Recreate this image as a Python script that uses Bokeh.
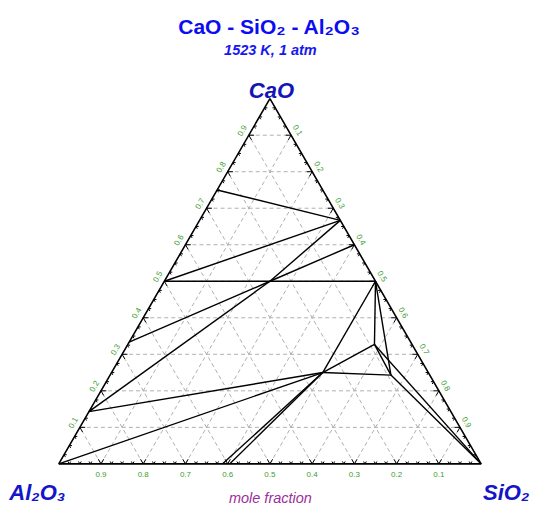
import math
from bokeh.plotting import figure
from bokeh.models import Range1d, Label
from bokeh.core.properties import value
from bokeh.embed import file_html
from bokeh.resources import INLINE

# ---------------- data ----------------
title_text = "CaO - SiO₂ - Al₂O₃"
subtitle_text = "1523 K, 1 atm"
corner_top = "CaO"
corner_left = "Al₂O₃"
corner_right = "SiO₂"
axis_label = "mole fraction"

# phase compositions (mole fractions of CaO and SiO2; Al2O3 = rest)
phase_names = ["CaO", "SiO2", "Al2O3", "C3A", "CA", "CA2", "CA6", "C2S", "C3S2",
               "CS", "Gehlenite", "Anorthite", "Mullite_a", "Mullite_b", "Liq1", "Liq2"]
phase_cao = [1.0, 0.0, 0.0, 0.75, 0.5, 1/3, 1/7, 2/3, 0.6,
             0.5, 0.5, 0.25, 0.0, 0.0, 0.327, 0.243]
phase_sio2 = [0.0, 1.0, 0.0, 0.0, 0.0, 0.0, 0.0, 1/3, 0.4,
              0.5, 0.25, 0.5, 0.388, 0.405, 0.584, 0.665]

tie_start = ["C3A", "CA", "CA", "C2S", "C3S2", "Gehlenite", "Gehlenite", "CA6",
             "Al2O3", "Mullite_a", "Mullite_b", "CS", "CS", "Anorthite", "Anorthite",
             "Liq1", "CS", "Liq1", "Liq2"]
tie_end = ["C2S", "C2S", "CS", "Gehlenite", "Gehlenite", "CA2", "CA6", "Anorthite",
           "Anorthite", "Anorthite", "Anorthite", "Anorthite", "Liq1", "Liq1", "Liq2",
           "Liq2", "Liq2", "SiO2", "SiO2"]

grid_levels = [0.1, 0.2, 0.3, 0.4, 0.5, 0.6, 0.7, 0.8, 0.9]
tick_labels = ["0.1", "0.2", "0.3", "0.4", "0.5", "0.6", "0.7", "0.8", "0.9"]
minor_count = 40  # ticks every 0.025

# ---------------- helpers ----------------
H = math.sqrt(3) / 2


def to_xy(cao, sio2):
    return sio2 + cao / 2, cao * H


phase_xy = {n: to_xy(c, s) for n, c, s in zip(phase_names, phase_cao, phase_sio2)}

W, HT = 534, 506
REF_W, REF_H = 550, 522
SX, SY = W / REF_W, HT / REF_H
SCALE = 435.0  # reference pixels per unit
X0 = (0 - 60) / SCALE
X1 = (REF_W - 60) / SCALE
Y0 = (478 - REF_H) / SCALE
Y1 = (478 - 0) / SCALE

p = figure(width=W, height=HT, x_range=Range1d(X0, X1), y_range=Range1d(Y0, Y1),
           output_backend="svg", toolbar_location=None, min_border=0,
           x_axis_type=None, y_axis_type=None)
p.outline_line_color = None
p.grid.visible = False
p.background_fill_color = "white"
p.border_fill_color = "white"

# ---------------- grid ----------------
gx0, gy0, gx1, gy1 = [], [], [], []
for v in grid_levels:
    a = to_xy(v, 0.0); b = to_xy(v, 1 - v)           # constant CaO
    gx0.append(a[0]); gy0.append(a[1]); gx1.append(b[0]); gy1.append(b[1])
    a = to_xy(0.0, v); b = to_xy(1 - v, v)           # constant SiO2
    gx0.append(a[0]); gy0.append(a[1]); gx1.append(b[0]); gy1.append(b[1])
    a = to_xy(0.0, 1 - v); b = to_xy(1 - v, 0.0)     # constant Al2O3
    gx0.append(a[0]); gy0.append(a[1]); gx1.append(b[0]); gy1.append(b[1])
p.segment(gx0, gy0, gx1, gy1, line_color="#b0b0b0", line_width=1, line_dash="4 3")

# ---------------- ticks ----------------
LMAJ = 5.5 / SCALE
LMIN = 2.8 / SCALE
tx0, ty0, tx1, ty1 = [], [], [], []
for k in range(1, minor_count):
    f = k / minor_count
    L = LMAJ if k % 4 == 0 else LMIN
    px, py = to_xy(f, 0.0)                      # left edge
    for dx, dy in [(L, 0), (0.5 * L, -H * L)]:
        tx0.append(px); ty0.append(py); tx1.append(px + dx); ty1.append(py + dy)
    px, py = to_xy(0.0, 1 - f)                  # bottom edge
    for dx, dy in [(-0.5 * L, H * L), (0.5 * L, H * L)]:
        tx0.append(px); ty0.append(py); tx1.append(px + dx); ty1.append(py + dy)
    px, py = to_xy(1 - f, f)                    # right edge
    for dx, dy in [(-L, 0), (-0.5 * L, -H * L)]:
        tx0.append(px); ty0.append(py); tx1.append(px + dx); ty1.append(py + dy)
p.segment(tx0, ty0, tx1, ty1, line_color="black", line_width=1)

# ---------------- tie lines ----------------
lx0 = [phase_xy[s][0] for s in tie_start]
ly0 = [phase_xy[s][1] for s in tie_start]
lx1 = [phase_xy[e][0] for e in tie_end]
ly1 = [phase_xy[e][1] for e in tie_end]
p.segment(lx0, ly0, lx1, ly1, line_color="black", line_width=1.4)

# ---------------- triangle ----------------
corners = [to_xy(0, 0), to_xy(0, 1), to_xy(1, 0), to_xy(0, 0)]
p.line([c[0] for c in corners], [c[1] for c in corners], line_color="black", line_width=1.6)

# ---------------- tick labels ----------------
lab_col = "#3c9e2c"
left_pts = [to_xy(v, 0.0) for v in grid_levels]
bot_pts = [to_xy(0.0, 1 - v) for v in grid_levels]
right_pts = [to_xy(1 - v, v) for v in grid_levels]
common = dict(text_font=value("Liberation Sans"), text_font_size="8px",
              text_color=lab_col, text_align="center", text_baseline="middle")
p.text(x=[q[0] for q in left_pts], y=[q[1] for q in left_pts], text=tick_labels,
       x_offset=-6.5, y_offset=-4.5, angle=math.pi / 3, **common)
p.text(x=[q[0] for q in bot_pts], y=[q[1] for q in bot_pts], text=tick_labels,
       x_offset=0, y_offset=10.5, angle=0, **common)
p.text(x=[q[0] for q in right_pts], y=[q[1] for q in right_pts], text=tick_labels,
       x_offset=6.5, y_offset=-5, angle=-math.pi / 3, **common)


# ---------------- titles & corner labels ----------------
def add_label(txt, ref_x, ref_baseline, size, color, style, align="center"):
    p.add_layout(Label(x=ref_x * SX, y=(REF_H - ref_baseline) * SY,
                       x_units="screen", y_units="screen", text=txt,
                       text_font="Liberation Sans", text_font_size=size, text_color=color,
                       text_font_style=style, text_align=align, text_baseline="alphabetic"))


add_label(title_text, 277, 27, "21px", "#0c0cf2", "bold")
add_label(subtitle_text, 278, 51, "14.5px", "#1818ee", "bold italic")
add_label(corner_top, 279, 93, "22px", "#1414b8", "bold italic")
add_label(corner_left, 9, 508, "22px", "#1414c8", "bold italic", align="left")
add_label(corner_right, 497, 508, "22px", "#1414c8", "bold italic", align="left")
add_label(axis_label, 278, 513, "14.5px", "#9b2f9b", "italic")

open("out.html", "w").write(file_html(p, INLINE))
